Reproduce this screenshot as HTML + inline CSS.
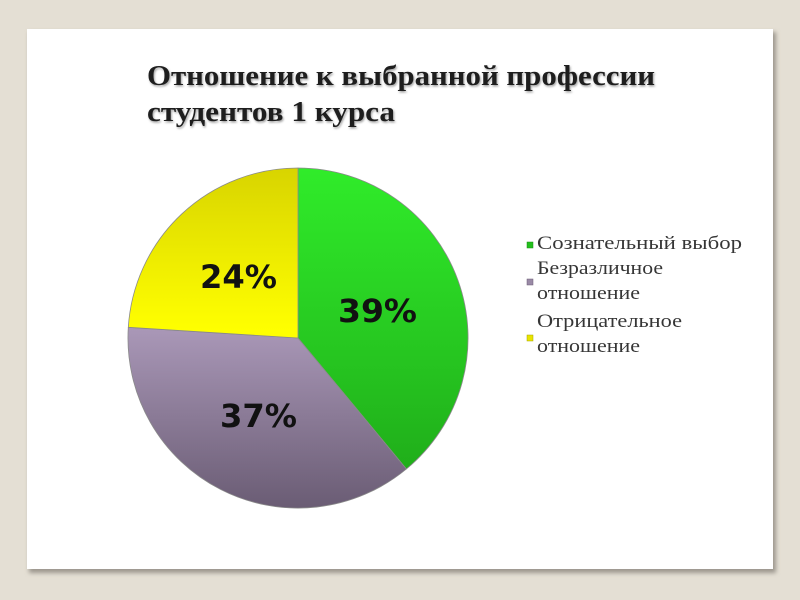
<!DOCTYPE html>
<html><head><meta charset="utf-8"><style>
html,body{margin:0;padding:0;background:#e4dfd4;}
svg{display:block;}
</style></head><body>
<svg width="800" height="600" viewBox="0 0 800 600" xmlns="http://www.w3.org/2000/svg">
<defs>
<filter id="sh" x="-5%" y="-5%" width="110%" height="110%"><feGaussianBlur stdDeviation="2"/></filter>
<filter id="tsh" x="-5%" y="-20%" width="110%" height="140%"><feGaussianBlur stdDeviation="1"/></filter>
<linearGradient id="gG" gradientUnits="userSpaceOnUse" x1="0" y1="168" x2="0" y2="470">
<stop offset="0" stop-color="#30ec2a"/><stop offset="1" stop-color="#20ae1a"/></linearGradient>
<linearGradient id="gP" gradientUnits="userSpaceOnUse" x1="0" y1="327" x2="0" y2="508">
<stop offset="0" stop-color="#aa98b8"/><stop offset="1" stop-color="#6a5c74"/></linearGradient>
<linearGradient id="gY" gradientUnits="userSpaceOnUse" x1="0" y1="168" x2="0" y2="330">
<stop offset="0" stop-color="#d8d400"/><stop offset="1" stop-color="#ffff00"/></linearGradient>
</defs>
<rect width="800" height="600" fill="#e4dfd4"/>
<rect x="29" y="32" width="747" height="541" fill="#9c978e" filter="url(#sh)"/>
<rect x="27" y="29" width="746" height="540" fill="#ffffff"/>

<g font-family="'Liberation Serif','DejaVu Serif',serif" font-weight="bold" font-size="28">
<g fill="#a0a0a0" filter="url(#tsh)" transform="translate(1,1.5)">
<text x="147" y="85" textLength="508" lengthAdjust="spacingAndGlyphs">Отношение к выбранной профессии</text>
<text x="147" y="121" textLength="248" lengthAdjust="spacingAndGlyphs">студентов 1 курса</text>
</g>
<g fill="#1e1e1e">
<text x="147" y="85" textLength="508" lengthAdjust="spacingAndGlyphs">Отношение к выбранной профессии</text>
<text x="147" y="121" textLength="248" lengthAdjust="spacingAndGlyphs">студентов 1 курса</text>
</g>
</g>

<g stroke="#8a8a8a" stroke-width="0.8" stroke-linejoin="round">
<path d="M298,338 L298,168 A170,170 0 0 1 406.4,469 Z" fill="url(#gG)"/>
<path d="M298,338 L406.4,469 A170,170 0 0 1 128.3,327.3 Z" fill="url(#gP)"/>
<path d="M298,338 L128.3,327.3 A170,170 0 0 1 298,168 Z" fill="url(#gY)"/>
</g>

<g font-family="'DejaVu Sans',sans-serif" font-weight="bold" font-size="32" fill="#111">
<text x="338" y="322" textLength="79" lengthAdjust="spacingAndGlyphs">39%</text>
<text x="200" y="288" textLength="77" lengthAdjust="spacingAndGlyphs">24%</text>
<text x="220" y="427" textLength="77" lengthAdjust="spacingAndGlyphs">37%</text>
</g>

<rect x="527" y="242" width="6" height="6" fill="#22c01c" stroke="#1a8a16" stroke-width="0.5"/>
<rect x="527" y="279" width="6" height="6" fill="#9a8aa6" stroke="#6a5c74" stroke-width="0.5"/>
<rect x="527" y="335" width="6" height="6" fill="#e8e400" stroke="#a8a400" stroke-width="0.5"/>
<g font-family="'Liberation Serif','DejaVu Serif',serif" font-size="19" fill="#363636">
<text x="537" y="249" textLength="205" lengthAdjust="spacingAndGlyphs">Сознательный выбор</text>
<text x="537" y="274" textLength="126" lengthAdjust="spacingAndGlyphs">Безразличное</text>
<text x="537" y="299" textLength="103" lengthAdjust="spacingAndGlyphs">отношение</text>
<text x="537" y="327" textLength="145" lengthAdjust="spacingAndGlyphs">Отрицательное</text>
<text x="537" y="352" textLength="103" lengthAdjust="spacingAndGlyphs">отношение</text>
</g>
</svg>
</body></html>
